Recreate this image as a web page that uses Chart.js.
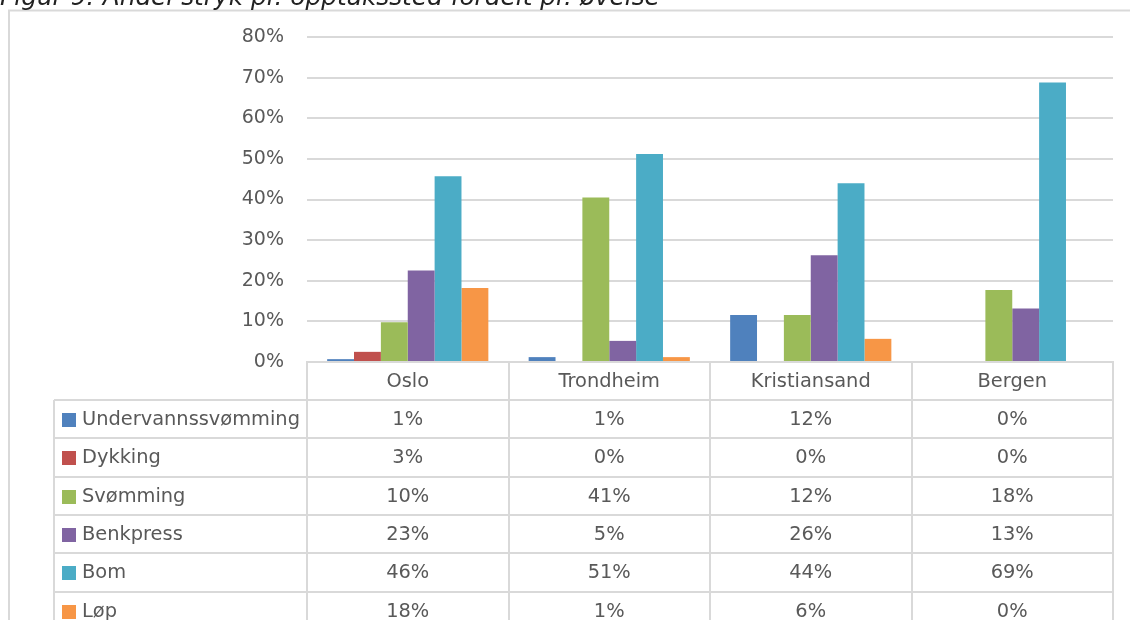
<!DOCTYPE html>
<html>
<head>
<meta charset="utf-8">
<script src="https://cdn.jsdelivr.net/npm/chart.js@4"></script>
<style>
  html, body { margin: 0; padding: 0; background: #fff; overflow: hidden; }
  #wrap { position: relative; width: 1130px; height: 620px; }
  #title {
    position: absolute; left: 0; top: -16px; margin: 0;
    font: italic 24.8px/25px "DejaVu Sans", sans-serif; color: #222;
    white-space: nowrap; z-index: 2;
  }
</style>
</head>
<body>
<div id="wrap">
  <div id="title">Figur 9: Andel stryk pr. opptakssted fordelt pr. øvelse</div>
  <canvas id="chart"></canvas>
</div>
<script>
// Kategorier og serier (prosent)
const steder = ['Oslo', 'Trondheim', 'Kristiansand', 'Bergen'];
const ovelser = ['Undervannssvømming', 'Dykking', 'Svømming', 'Benkpress', 'Bom', 'Løp'];
const undervann = [0.7, 1.2, 11.6, 0];
const dykking = [2.5, 0, 0, 0];
const svomming = [9.8, 40.5, 11.6, 17.7];
const benkpress = [22.5, 5.2, 26.3, 13.2];
const bom = [45.7, 51.2, 44.0, 68.8];
const lop = [18.2, 1.2, 5.7, 0];
const yTicks = [0, 10, 20, 30, 40, 50, 60, 70, 80];

const farger = ['#4F81BD', '#C0504D', '#9BBB59', '#8064A2', '#4BACC6', '#F79646'];
const serier = [undervann, dykking, svomming, benkpress, bom, lop];

const FONT = '"DejaVu Sans", sans-serif';
const TXT = '#595959';
const LINE = '#D9D9D9';

// Tegner ramme og datatabell under diagrammet
const tabellPlugin = {
    id: 'tabell',
    afterDraw(chart) {
        const ctx = chart.ctx;
        const area = chart.chartArea;
        const n = steder.length;
        const colW = (area.right - area.left) / n;
        const headTop = area.bottom;
        const headH = 38;
        const rowH = 38.3;
        const tableLeft = 54;
        const bottom = chart.height + 20;

        ctx.save();
        ctx.strokeStyle = LINE;
        ctx.lineWidth = 2;

        // ytre ramme
        ctx.beginPath();
        ctx.moveTo(9, chart.height);
        ctx.lineTo(9, 10.5);
        ctx.lineTo(chart.width, 10.5);
        ctx.stroke();

        // vertikale linjer
        ctx.beginPath();
        for (let i = 0; i <= n; i++) {
            const x = Math.round(area.left + i * colW);
            ctx.moveTo(x, headTop);
            ctx.lineTo(x, bottom);
        }
        ctx.moveTo(tableLeft, headTop + headH);
        ctx.lineTo(tableLeft, bottom);
        // horisontale linjer
        for (let r = 0; r < ovelser.length; r++) {
            const y = Math.round(headTop + headH + r * rowH);
            ctx.moveTo(tableLeft, y);
            ctx.lineTo(area.right, y);
        }
        ctx.stroke();

        ctx.font = '19.4px ' + FONT;
        ctx.fillStyle = TXT;
        ctx.textAlign = 'center';
        ctx.textBaseline = 'middle';
        steder.forEach((s, i) => {
            ctx.fillText(s, area.left + (i + 0.5) * colW, headTop + headH / 2 + 1);
        });

        ovelser.forEach((navn, r) => {
            const yc = headTop + headH + r * rowH + rowH / 2 + 1;
            ctx.fillStyle = farger[r];
            ctx.fillRect(62, Math.round(yc - 7), 14, 14);
            ctx.fillStyle = TXT;
            ctx.textAlign = 'left';
            ctx.fillText(navn, 82, yc);
            ctx.textAlign = 'center';
            serier[r].forEach((v, i) => {
                ctx.fillText(Math.round(v) + '%', area.left + (i + 0.5) * colW, yc);
            });
        });
        ctx.restore();
    }
};

const ctx = document.getElementById('chart').getContext('2d');
new Chart(ctx, {
    type: 'bar',
    data: {
        labels: steder,
        datasets: ovelser.map((navn, i) => ({
            label: navn,
            data: serier[i],
            backgroundColor: farger[i],
            borderWidth: 0,
            categoryPercentage: 0.8,
            barPercentage: 1.0
        }))
    },
    options: {
        responsive: true,
        maintainAspectRatio: false,
        animation: false,
        layout: { padding: { left: 0, top: 37, right: 17, bottom: 0 } },
        plugins: {
            legend: { display: false },
            tooltip: { enabled: false }
        },
        scales: {
            x: {
                grid: { display: false },
                ticks: { display: false },
                border: { display: true, color: LINE, width: 2 },
                afterFit: (scale) => { scale.height = 258; }
            },
            y: {
                min: 0,
                max: 80,
                afterBuildTicks: (scale) => { scale.ticks = yTicks.map(v => ({ value: v })); },
                ticks: {
                    padding: 23,
                    color: TXT,
                    font: { family: FONT, size: 19 },
                    callback: (v) => v + '%'
                },
                grid: { color: LINE, lineWidth: 2, drawTicks: false },
                border: { display: false },
                afterFit: (scale) => { scale.width = 307; }
            }
        }
    },
    plugins: [tabellPlugin]
});
</script>
</body>
</html>
